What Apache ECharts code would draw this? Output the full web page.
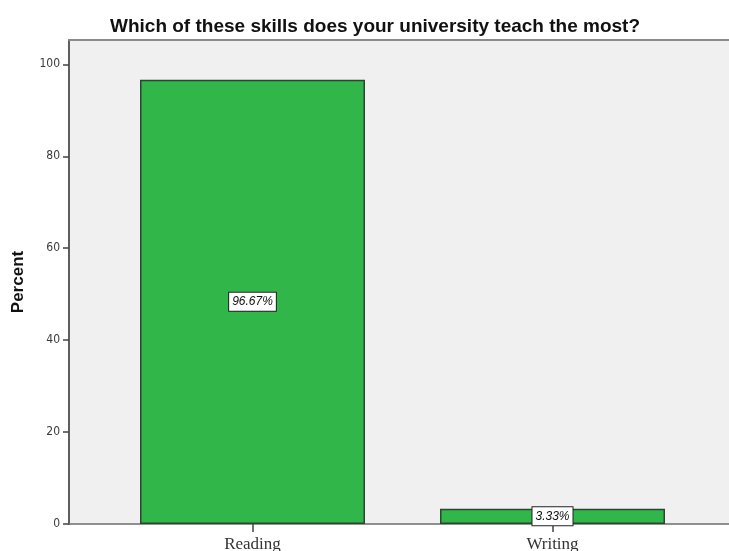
<!DOCTYPE html>
<html>
<head>
<meta charset="utf-8">
<script src="https://cdn.jsdelivr.net/npm/echarts@6/dist/echarts.min.js"></script>
<style>
  html, body { margin: 0; padding: 0; background: #ffffff; }
  #chart { width: 729px; height: 551px; }
</style>
</head>
<body>
<div id="chart"></div>
<script>
// Survey answers: share of respondents per skill
const categories = ['Reading', 'Writing'];
const percentValues = [96.67, 3.33];
const yTickValues = [0, 20, 40, 60, 80, 100];

const Y_MAX = 105.3;
const chart = echarts.init(document.getElementById('chart'));

chart.setOption({
  animation: false,
  backgroundColor: '#ffffff',
  title: {
    text: 'Which of these skills does your university teach the most?',
    left: 370,
    textAlign: 'center',
    top: 12,
    textStyle: {
      fontFamily: 'Liberation Sans, Arial, sans-serif',
      fontSize: 19,
      fontWeight: 'bold',
      color: '#111111'
    }
  },
  grid: [
    // frame: shaded plot area with axes
    { left: 69, top: 40, right: 0, bottom: 27, show: true, backgroundColor: '#f0f0f0', borderWidth: 0, outerBoundsMode: 'none', containLabel: false },
    // bars
    { left: 102.5, top: 40, width: 600, bottom: 27, outerBoundsMode: 'none', containLabel: false }
  ],
  xAxis: [
    {
      gridIndex: 0, type: 'category', data: [''], position: 'bottom',
      axisLine: { show: true, lineStyle: { color: '#6e6e6e', width: 1.5 } },
      axisTick: { show: false }, axisLabel: { show: false }, splitLine: { show: false }
    },
    {
      gridIndex: 0, type: 'category', data: [''], position: 'top',
      axisLine: { show: true, lineStyle: { color: '#8a8a8a', width: 2 } },
      axisTick: { show: false }, axisLabel: { show: false }, splitLine: { show: false }
    },
    {
      gridIndex: 1, type: 'category', data: categories,
      axisLine: { show: false },
      axisTick: { show: true, alignWithLabel: true, length: 8, lineStyle: { color: '#444444', width: 1.5 } },
      axisLabel: {
        margin: 12,
        fontFamily: 'Liberation Serif, Times New Roman, serif',
        fontSize: 17,
        color: '#333333'
      },
      splitLine: { show: false }
    }
  ],
  yAxis: [
    {
      gridIndex: 0, type: 'value', min: 0, max: Y_MAX, interval: 20,
      name: 'Percent', nameLocation: 'middle', nameGap: 42, nameRotate: 90,
      nameTextStyle: {
        fontFamily: 'Liberation Sans, Arial, sans-serif',
        fontSize: 17, fontWeight: 'bold', color: '#111111'
      },
      axisLine: { show: true, lineStyle: { color: '#5e5e5e', width: 2 } },
      axisTick: { show: true, length: 6, customValues: yTickValues, lineStyle: { color: '#444444', width: 1.5 } },
      axisLabel: {
        margin: 9,
        customValues: yTickValues,
        fontFamily: 'DejaVu Sans Condensed, DejaVu Sans, sans-serif',
        fontSize: 12,
        color: '#3a3a3a'
      },
      splitLine: { show: false }
    },
    {
      gridIndex: 1, type: 'value', min: 0, max: Y_MAX,
      show: false, splitLine: { show: false }
    }
  ],
  series: [
    {
      type: 'bar',
      xAxisIndex: 2,
      yAxisIndex: 1,
      data: percentValues,
      barCategoryGap: '25%',
      itemStyle: { color: '#31b64a', borderColor: '#2a4530', borderWidth: 1.5 },
      label: {
        show: true,
        position: 'inside',
        formatter: p => p.value.toFixed(2) + '%',
        fontFamily: 'Liberation Sans, Arial, sans-serif',
        fontSize: 12,
        fontStyle: 'italic',
        color: '#111111',
        backgroundColor: '#ffffff',
        borderColor: '#222222',
        borderWidth: 1,
        padding: [3, 3, 3, 3]
      }
    }
  ]
});
</script>
</body>
</html>
